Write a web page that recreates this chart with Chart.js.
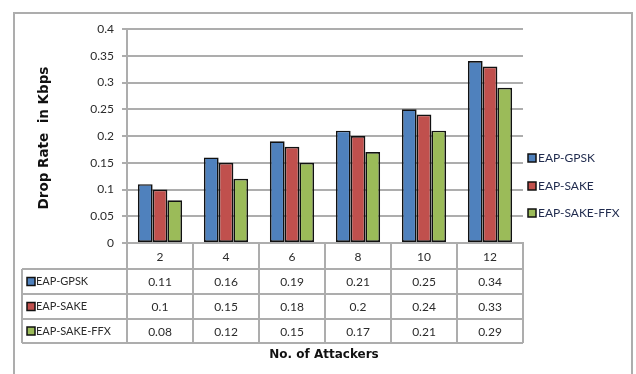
<!DOCTYPE html>
<html>
<head>
<meta charset="utf-8">
<script src="https://cdn.jsdelivr.net/npm/chart.js@4/dist/chart.umd.min.js"></script>
<style>
  html, body { margin: 0; padding: 0; background: #fff; }
  #wrap { width: 636px; height: 374px; position: relative; }
</style>
</head>
<body>
<div id="wrap"><canvas id="c" width="636" height="374"></canvas></div>
<script>
// Number of attackers on the x axis
const attackers = ['2', '4', '6', '8', '10', '12'];
// Drop rate (Kbps) per protocol
const eapGpsk = [0.11, 0.16, 0.19, 0.21, 0.25, 0.34];
const eapSake = [0.10, 0.15, 0.18, 0.20, 0.24, 0.33];
const eapSakeFfx = [0.08, 0.12, 0.15, 0.17, 0.21, 0.29];
const seriesNames = ['EAP-GPSK', 'EAP-SAKE', 'EAP-SAKE-FFX'];
const seriesColors = ['#4F81BD', '#C0504D', '#9BBB59'];
const yTicks = [0, 0.05, 0.1, 0.15, 0.2, 0.25, 0.3, 0.35, 0.4];
const yTitle = 'Drop Rate  in Kbps';
const xTitle = 'No. of Attackers';

const FONT = 'Lato, "Liberation Sans", sans-serif';
const TITLE_FONT = '"DejaVu Sans", sans-serif';
const LINE = '#adadad';
const TEXT = '#2b2b2b';

const seriesData = [eapGpsk, eapSake, eapSakeFfx];

// Frame, data table, legend and titles drawn around the bar area
const decorations = {
  id: 'decorations',
  beforeDraw(chart) {
    const ctx = chart.ctx;
    ctx.save();
    ctx.strokeStyle = LINE;
    ctx.lineWidth = 2;
    ctx.strokeRect(14, 13, 618, 400);
    ctx.restore();
  },
  afterDraw(chart) {
    const ctx = chart.ctx;
    const x = chart.scales.x;
    const area = chart.chartArea;
    const n = attackers.length;
    const colW = (area.right - area.left) / n;
    const edges = [];
    for (let i = 0; i <= n; i++) edges.push(area.left + colW * i);
    const tableLeft = 22;
    const rowTops = [area.bottom, 269, 294, 319, 343];

    ctx.save();
    ctx.strokeStyle = LINE;
    ctx.lineWidth = 2;
    ctx.beginPath();
    // vertical column lines
    edges.forEach(ex => { ctx.moveTo(ex, area.bottom); ctx.lineTo(ex, rowTops[4]); });
    ctx.moveTo(tableLeft, rowTops[1]); ctx.lineTo(tableLeft, rowTops[4]);
    // horizontal row lines
    for (let r = 1; r < rowTops.length; r++) {
      ctx.moveTo(tableLeft, rowTops[r]); ctx.lineTo(area.right, rowTops[r]);
    }
    ctx.stroke();

    // table rows: legend key + values
    ctx.textBaseline = 'middle';
    seriesData.forEach((vals, s) => {
      const cy = (rowTops[s + 1] + rowTops[s + 2]) / 2;
      ctx.fillStyle = seriesColors[s];
      ctx.strokeStyle = '#111';
      ctx.lineWidth = 1.5;
      ctx.fillRect(27, cy - 4, 8, 8);
      ctx.strokeRect(27, cy - 4, 8, 8);
      ctx.fillStyle = TEXT;
      ctx.textAlign = 'left';
      ctx.font = '11px ' + FONT;
      ctx.fillText(seriesNames[s], 36, cy);
      ctx.font = '12px ' + FONT;
      ctx.textAlign = 'center';
      vals.forEach((v, i) => {
        ctx.fillText(String(v), x.getPixelForValue(i), cy + 1);
      });
    });

    // legend on the right
    const legendY = [158, 186, 213];
    ctx.font = '12px ' + FONT;
    ctx.textAlign = 'left';
    seriesNames.forEach((name, s) => {
      const cy = legendY[s];
      ctx.fillStyle = seriesColors[s];
      ctx.strokeStyle = '#111';
      ctx.lineWidth = 1.5;
      ctx.fillRect(528, cy - 4, 8, 8);
      ctx.strokeRect(528, cy - 4, 8, 8);
      ctx.fillStyle = '#1f2a4d';
      ctx.fillText(name, 538, cy);
    });

    // axis titles
    ctx.fillStyle = '#111';
    ctx.font = 'bold 12px ' + TITLE_FONT;
    ctx.textAlign = 'center';
    ctx.fillText(xTitle, 324, 355);
    ctx.font = 'bold 13.5px ' + TITLE_FONT;
    ctx.translate(44, 138);
    ctx.rotate(-Math.PI / 2);
    ctx.fillText(yTitle, 0, 0);
    ctx.restore();
  }
};

new Chart(document.getElementById('c'), {
  type: 'bar',
  data: {
    labels: attackers,
    datasets: seriesData.map((d, s) => ({
      label: seriesNames[s],
      data: d,
      backgroundColor: seriesColors[s],
      borderColor: '#111',
      borderWidth: 1.7,
      borderSkipped: false,
      categoryPercentage: 0.67,
      barPercentage: 1.0
    }))
  },
  options: {
    responsive: false,
    animation: false,
    layout: { padding: { left: 0, top: 29, right: 113, bottom: 0 } },
    plugins: { legend: { display: false }, tooltip: { enabled: false } },
    scales: {
      x: {
        grid: { display: false, drawTicks: false },
        border: { display: true, color: LINE, width: 2 },
        ticks: { color: TEXT, font: { family: FONT, size: 12 }, padding: 7 },
        afterFit(scale) { scale.height = 131; }
      },
      y: {
        min: 0,
        max: 0.4,
        afterBuildTicks(scale) { scale.ticks = yTicks.map(v => ({ value: v })); },
        grid: { color: LINE, lineWidth: 2, tickLength: 5 },
        border: { display: true, color: LINE, width: 2 },
        ticks: {
          color: TEXT,
          font: { family: FONT, size: 12 },
          padding: 8,
          callback: v => String(+v.toFixed(2))
        },
        afterFit(scale) { scale.width = 127; }
      }
    }
  },
  plugins: [decorations]
});
</script>
</body>
</html>
